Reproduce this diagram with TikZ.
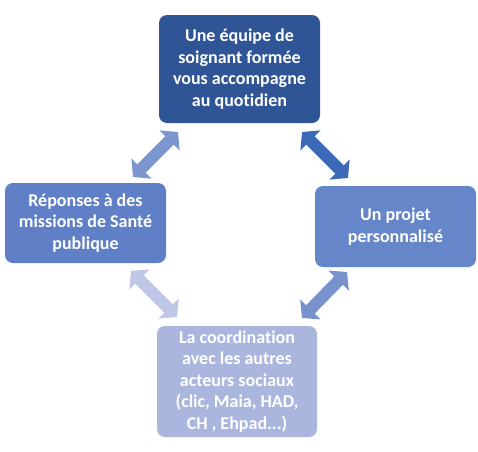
\documentclass[tikz,border=0pt]{standalone}
\usepackage{fontspec}
\setmainfont{Carlito}[Ligatures={NoCommon,NoDiscretionary,NoRare}]
\usetikzlibrary{arrows.meta}
\definecolor{cTop}{HTML}{2F5597}
\definecolor{cLeft}{HTML}{5F7FC6}
\definecolor{cRight}{HTML}{6686CA}
\definecolor{cBot}{HTML}{AAB6DE}
\definecolor{aTL}{HTML}{7C96D0}
\definecolor{aTR}{HTML}{3D69B9}
\definecolor{aBL}{HTML}{BEC7E6}
\definecolor{aBR}{HTML}{7892CE}
\tikzset{
  box/.style={rounded corners=8pt, inner sep=0pt, text=white,
    font=\bfseries\fontsize{18}{21.5}\selectfont, align=center},
  dblarrow/.style={line width=12pt, {Triangle[length=12pt,width=28pt]}-{Triangle[length=12pt,width=28pt]}},
}
\begin{document}
\begin{tikzpicture}[x=1pt,y=-1pt]
\useasboundingbox (0,0) rectangle (478,451);
\node[box, fill=cTop, minimum width=161pt, minimum height=108pt] (top) at (239.5,69)
  {Une équipe de\\soignant formée\\vous accompagne\\au quotidien};
\node[box, fill=cLeft, minimum width=161pt, minimum height=80pt] (left) at (85.5,223)
  {Réponses à des\\missions de Santé\\publique};
\node[box, fill=cRight, minimum width=161pt, minimum height=81pt] (right) at (395.5,226.5)
  {Un projet\\personnalisé};
\node[box, fill=cBot, minimum width=160pt, minimum height=111pt] (bot) at (237,381.5)
  {La coordination\\avec les autres\\acteurs sociaux\\(clic, Maia, HAD,\\CH , Ehpad...)};
\coordinate (tl1) at (133,177); \coordinate (tl2) at (178,132);
\coordinate (tr1) at (302,132); \coordinate (tr2) at (348,178);
\coordinate (bl1) at (131,271); \coordinate (bl2) at (177,317);
\coordinate (br1) at (302,318); \coordinate (br2) at (347,272);
\draw[dblarrow, draw=aTL, fill=aTL] (tl1) -- (tl2);
\draw[dblarrow, draw=aTR, fill=aTR] (tr1) -- (tr2);
\draw[dblarrow, draw=aBL, fill=aBL] (bl1) -- (bl2);
\draw[dblarrow, draw=aBR, fill=aBR] (br1) -- (br2);
\end{tikzpicture}
\end{document}
